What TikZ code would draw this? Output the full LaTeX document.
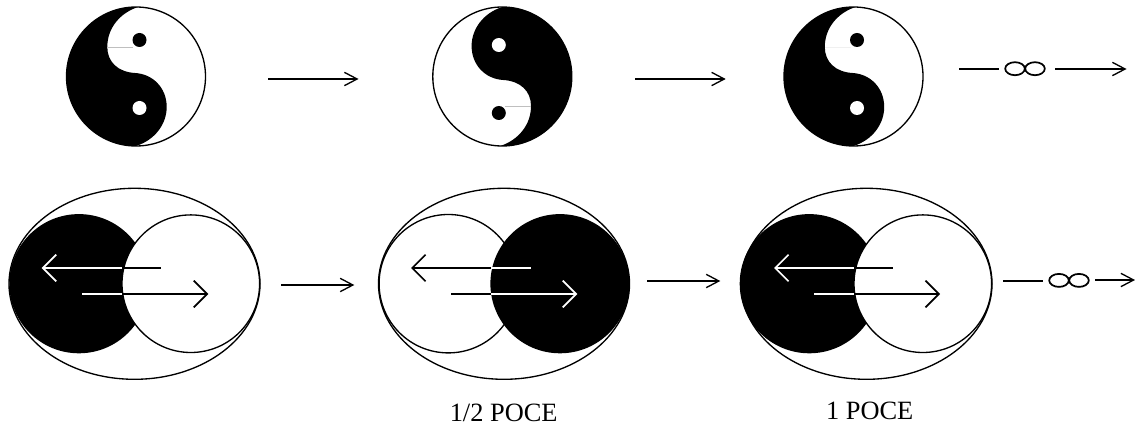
\documentclass[tikz,border=0pt]{standalone}
\usepackage{fontspec}
\setmainfont{Liberation Serif}
\usetikzlibrary{arrows.meta}
\tikzset{
  outline/.style={draw=black,line width=1pt},
  smallflow/.style={draw=black,line width=1.2pt,-{Straight Barb[length=9.5pt,width=10pt,line width=1pt]}},
  whiteflow/.style={draw=white,line width=1.6pt,-{Straight Barb[length=10pt,width=20pt,line width=1.3pt]}},
  blackflow/.style={draw=black,line width=1.6pt,-{Straight Barb[length=10pt,width=20pt,line width=1.3pt]}},
  whitetail/.style={draw=white,line width=1.6pt},
  blacktail/.style={draw=black,line width=1.6pt},
  plainline/.style={draw=black,line width=1.2pt},
  infloop/.style={draw=black,line width=1.3pt},
  caption/.style={font=\fontsize{19.8pt}{22pt}\selectfont,inner sep=0pt,anchor=base}
}
% #1 cx, #2 cy, #3 rotation, #4 seam colour
\newcommand{\yinyang}[4]{%
  \begin{scope}[shift={(#1,#2)},rotate=#3]
    \begin{scope}
      \clip (0,0) circle (69.5);
      \fill[black] (2,-69.5) .. controls (-16,-63.5) and (-28.7,-48.5) .. (-28.7,-29.5)
        .. controls (-28.7,-14.5) and (-18,-4.5) .. (-1,-3.5)
        .. controls (17,-2.5) and (30.7,11.5) .. (30.7,30.5)
        .. controls (30.7,47.5) and (19,63.5) .. (0,69.5)
        -- (-75,75) -- (-75,-75) -- cycle;
    \end{scope}
    \draw[outline] (0,0) circle (69.5);
    \draw[#4,line width=0.6pt] (-28.7,-29.5) -- (-3,-29.5);
    \fill[black] (3.5,-36.5) circle (7);
    \fill[white] (3.5,31.5) circle (7);
  \end{scope}}
\newcommand{\infinitysign}[2]{%
  \draw[infloop] (#1-10,#2) ellipse (9.8 and 6.5);
  \draw[infloop] (#1+10,#2) ellipse (9.8 and 6.5);}
\begin{document}
\begin{tikzpicture}[x=0.75pt,y=-0.75pt]
\useasboundingbox (0,0) rectangle (1135,427);

% top row
\yinyang{136}{76.5}{0}{black!25}
\yinyang{502.3}{76.5}{180}{black!25}
\yinyang{853.5}{76.5}{0}{black!6}

\coordinate (a1s) at (268,79); \coordinate (a1e) at (358.5,79);
\coordinate (a2s) at (635,79); \coordinate (a2e) at (725.7,79);
\draw[smallflow] (a1s) -- (a1e);
\draw[smallflow] (a2s) -- (a2e);

\coordinate (b1s) at (959,69); \coordinate (b1e) at (999,69);
\coordinate (b2s) at (1055,69); \coordinate (b2e) at (1126.5,69);
\draw[plainline] (b1s) -- (b1e);
\infinitysign{1025}{68.7}
\draw[smallflow] (b2s) -- (b2e);

% bottom row: first group
\draw[outline] (134.5,283.8) ellipse (125.5 and 95.5);
\fill[black] (78.9,283.7) circle (69.6);
\draw[outline,fill=white] (190.8,283.7) circle (68.8);
\coordinate (c1t) at (41.7,268); \coordinate (c1m) at (122,268); \coordinate (c1e) at (161,268);
\coordinate (c2s) at (82,294); \coordinate (c2m) at (122.3,294); \coordinate (c2t) at (208.3,294);
\draw[blacktail] (c1m) -- (c1e);
\draw[whiteflow] (c1m) -- (c1t);
\draw[whitetail] (c2s) -- (c2m);
\draw[blackflow] (c2m) -- (c2t);

% bottom row: second group
\draw[outline] (504,283.8) ellipse (125.5 and 95.5);
\draw[outline,fill=white] (448.3,283.7) circle (69.2);
\fill[black] (560,283.7) circle (69.6);
\coordinate (d1t) at (411,268); \coordinate (d1m) at (491,268); \coordinate (d1e) at (531,268);
\coordinate (d2s) at (451,294); \coordinate (d2m) at (491,294); \coordinate (d2t) at (577.3,294);
\draw[whitetail] (d1m) -- (d1e);
\draw[blackflow] (d1m) -- (d1t);
\draw[blacktail] (d2s) -- (d2m);
\draw[whiteflow] (d2m) -- (d2t);

% bottom row: third group
\draw[outline] (866.5,283.8) ellipse (125.5 and 95.5);
\fill[black] (809.3,283.7) circle (69.6);
\draw[outline,fill=white] (922.8,283.7) circle (68.8);
\coordinate (e1t) at (774,268); \coordinate (e1m) at (854,268); \coordinate (e1e) at (893,268);
\coordinate (e2s) at (814,294); \coordinate (e2m) at (854.3,294); \coordinate (e2t) at (940,294);
\draw[blacktail] (e1m) -- (e1e);
\draw[whiteflow] (e1m) -- (e1t);
\draw[whitetail] (e2s) -- (e2m);
\draw[blackflow] (e2m) -- (e2t);

% bottom connectors
\coordinate (f1s) at (281,285); \coordinate (f1e) at (354.3,285);
\coordinate (f2s) at (647.3,281); \coordinate (f2e) at (720.3,281);
\draw[smallflow] (f1s) -- (f1e);
\draw[smallflow] (f2s) -- (f2e);

\coordinate (g1s) at (1003,281); \coordinate (g1e) at (1043,281);
\coordinate (g2s) at (1095,280); \coordinate (g2e) at (1135,280);
\draw[plainline] (g1s) -- (g1e);
\infinitysign{1069}{280.4}
\draw[smallflow] (g2s) -- (g2e);

% captions
\node[caption] (half) at (503.7,421.7) {1/2 POCE};
\node[caption] (one) at (869.7,420) {1 POCE};
\end{tikzpicture}
\end{document}
